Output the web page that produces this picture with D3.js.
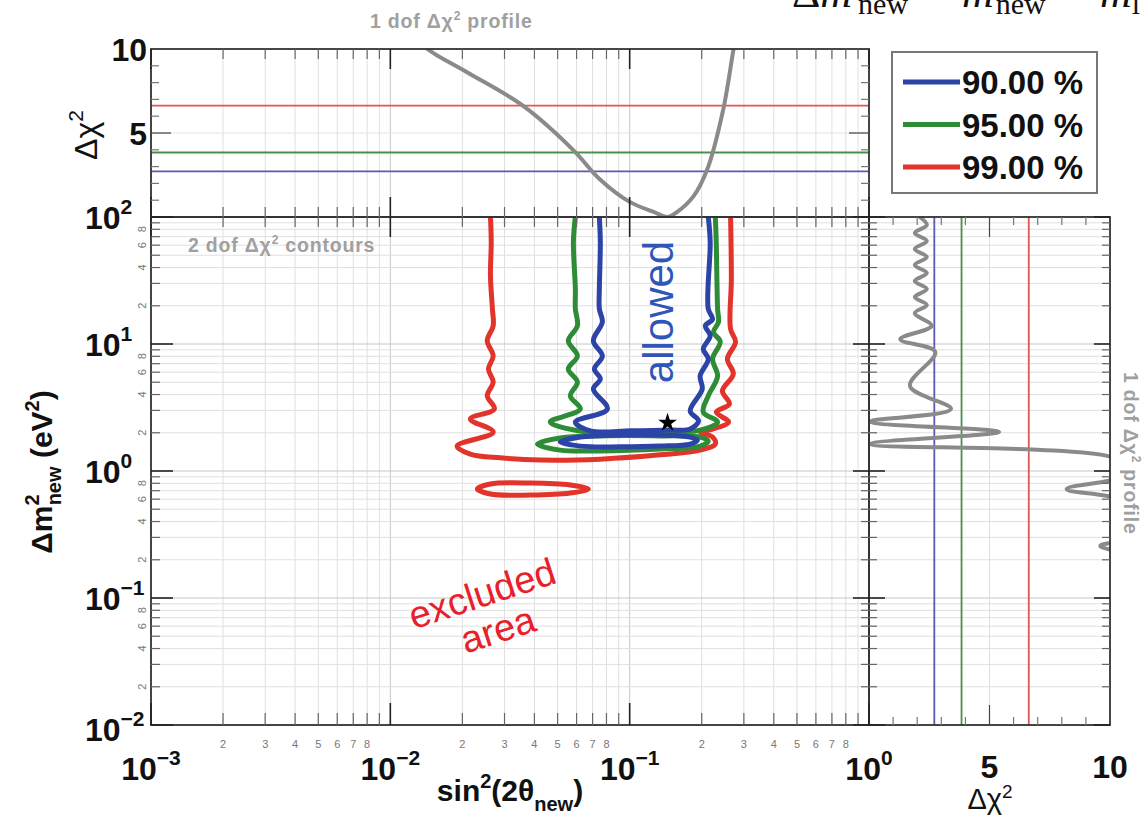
<!DOCTYPE html>
<html><head><meta charset="utf-8">
<script src="https://cdn.jsdelivr.net/npm/d3@7"></script>
<style>body{margin:0;background:#fff} svg{display:block;font-family:"Liberation Sans",Arial,sans-serif}</style>
</head><body>
<script>
// ---------------- data ----------------
const clLabels = ["90.00 %", "95.00 %", "99.00 %"];
const clDchi2 = [2.71, 3.84, 6.63];
const xMajor = [1e-3, 1e-2, 1e-1, 1];
const xExp = ["\u22123", "\u22122", "\u22121", "0"];
const yMajor = [1e-2, 1e-1, 1, 10, 100];
const yExp = ["\u22122", "\u22121", "0", "1", "2"];
const chiTickLabels = [5, 10];
// 1 dof profile vs sin^2(2theta): [sin2, dchi2]
const profileSin2 = [[0.0125,10.9],[0.0143,10.0],[0.021,8.6],[0.036,6.6],[0.058,4.0],[0.075,2.25],[0.100,0.9],[0.126,0.3],[0.144,0.0],[0.158,0.3],[0.185,1.24],[0.211,2.84],[0.246,6.4],[0.271,9.9],[0.28,11]];
// 1 dof profile vs dm2: [dchi2, dm2]
const profileDm2 = [[2.1,100],[2.4,86.5],[1.9,74.8],[2.4,64.7],[1.9,56.0],[2.4,48.4],[1.9,41.9],[2.4,36.2],[1.9,31.3],[2.4,27.1],[1.9,23.4],[2.4,20.3],[1.9,17.5],[2.6,13.9],[1.3,10.9],[2.75,8.65],[1.7,4.67],[3.4,3.08],[0.05,2.45],[5.4,2.03],[0.05,1.63],[10.5,1.2],[10.6,0.93],[8.2,0.72],[10.6,0.56],[10.6,0.30],[9.6,0.257],[10.6,0.22],[10.6,0.2]];
// 2 dof contours: [sin2, dm2]
const contour90 = [[0.0747,100],[0.0754,63.6],[0.0747,27.1],[0.0747,18.9],[0.0769,14.9],[0.0705,10.6],[0.0769,8.05],[0.0712,6.35],[0.0754,5.30],[0.0705,4.42],[0.0807,3.08],[0.0593,2.43],[0.0685,2.07],[0.101,2.07],[0.148,2.10],[0.179,2.14],[0.194,2.48],[0.179,2.97],[0.201,4.42],[0.197,5.60],[0.213,7.62],[0.203,9.13],[0.217,11.6],[0.207,13.9],[0.222,15.7],[0.213,18.9],[0.217,63.6],[0.213,100]];
const lens90 = [[0.0513,1.69],[0.0622,1.85],[0.0914,1.92],[0.134,1.92],[0.179,1.85],[0.192,1.75],[0.179,1.63],[0.134,1.57],[0.0914,1.55],[0.0622,1.57]];
const contour95 = [[0.0593,100],[0.0582,63.6],[0.0593,27.1],[0.0593,18.9],[0.0605,13.9],[0.0554,10.6],[0.0605,8.05],[0.0554,6.35],[0.0605,5.02],[0.0565,3.90],[0.0622,3.08],[0.0466,2.43],[0.0666,2.03],[0.111,2.03],[0.197,2.10],[0.233,2.43],[0.203,2.91],[0.213,3.90],[0.233,5.60],[0.222,7.62],[0.239,10.4],[0.224,12.4],[0.235,14.9],[0.233,18.9],[0.230,63.6],[0.228,100]];
const lens95 = [[0.0412,1.63],[0.0513,1.82],[0.0754,1.89],[0.134,1.89],[0.197,1.85],[0.213,1.72],[0.197,1.57],[0.134,1.49],[0.0754,1.44],[0.0513,1.46]];
const contour99 = [[0.0262,100],[0.0264,63.6],[0.0262,34.3],[0.0267,18.9],[0.0269,13.9],[0.0254,10.6],[0.0269,8.05],[0.0257,6.35],[0.0269,5.02],[0.0254,3.90],[0.0272,3.08],[0.0216,2.57],[0.0269,2.03],[0.0190,1.57],[0.0216,1.36],[0.0288,1.27],[0.0424,1.22],[0.0754,1.24],[0.134,1.34],[0.197,1.46],[0.228,1.63],[0.222,1.85],[0.197,2.03],[0.222,2.14],[0.259,2.43],[0.230,2.91],[0.261,3.37],[0.244,4.27],[0.271,5.81],[0.256,7.62],[0.277,10.4],[0.264,13.1],[0.266,32.5],[0.264,100]];
const island99 = [[0.0231,0.722],[0.0262,0.790],[0.0385,0.804],[0.0565,0.776],[0.0672,0.722],[0.0565,0.671],[0.0385,0.647],[0.0262,0.659]];
const bestFit = [0.144, 2.4];

// ---------------- layout / style ----------------
const W = 1146, H = 819;
const L = 151, R = 869, T = 217, B = 725, TT = 49, SR = 1110;
const colors = ["#2c44a8", "#2f8c36", "#e3342b"];
const lineColors = ["#5a5ab4", "#4a8f4a", "#e25555"];
const grey = "#8a8a8a";

const svg = d3.select("body").append("svg").attr("width", W).attr("height", H);
const x = d3.scaleLog().domain([1e-3, 1]).range([L, R]);
const y = d3.scaleLog().domain([1e-2, 1e2]).range([B, T]);
const yTop = d3.scaleLinear().domain([0, 10]).range([T, TT]);
const xSide = d3.scaleLinear().domain([0, 10]).range([R, SR]);
const isMajor = v => Math.abs(Math.log10(v) - Math.round(Math.log10(v))) < 1e-9;
const mant = v => Math.round(v / Math.pow(10, Math.floor(Math.log10(v) + 1e-9)));
const xT = x.ticks(), yT = y.ticks();
const chiT = d3.range(1, 10);

const defs = svg.append("defs");
defs.append("clipPath").attr("id", "cMain").append("rect").attr("x", L).attr("y", T).attr("width", R - L).attr("height", B - T);
defs.append("clipPath").attr("id", "cTop").append("rect").attr("x", L).attr("y", TT).attr("width", R - L).attr("height", T - TT);
defs.append("clipPath").attr("id", "cSide").append("rect").attr("x", R).attr("y", T).attr("width", SR - R).attr("height", B - T);

const gGrid = svg.append("g");
function ln(g, x1, y1, x2, y2, c, w) {
  return g.append("line").attr("x1", x1).attr("y1", y1).attr("x2", x2).attr("y2", y2).attr("stroke", c).attr("stroke-width", w);
}
// grids
xT.forEach(v => {
  const c = isMajor(v) ? "#c6c6c6" : "#e0e0e0";
  ln(gGrid, x(v), T, x(v), B, c, 1);
  ln(gGrid, x(v), TT, x(v), T, c, 1);
});
yT.forEach(v => {
  const c = isMajor(v) ? "#c6c6c6" : "#e0e0e0";
  ln(gGrid, L, y(v), R, y(v), c, 1);
  ln(gGrid, R, y(v), SR, y(v), c, 1);
});
ln(gGrid, L, yTop(5), R, yTop(5), "#e4e4e4", 1);
ln(gGrid, xSide(5), T, xSide(5), B, "#ecd8dc", 1);

// level lines
clDchi2.forEach((c, i) => {
  ln(svg, L, yTop(c), R, yTop(c), lineColors[i], 1.8);
  ln(svg, xSide(c), T, xSide(c), B, lineColors[i], 1.8);
});

// profiles
const lineTop = d3.line().x(d => x(d[0])).y(d => yTop(d[1])).curve(d3.curveCatmullRom.alpha(0.5));
svg.append("path").attr("clip-path", "url(#cTop)").attr("d", lineTop(profileSin2))
  .attr("fill", "none").attr("stroke", grey).attr("stroke-width", 4);
const lineSide = d3.line().x(d => xSide(d[0])).y(d => y(d[1])).curve(d3.curveCatmullRom.alpha(0.5));
svg.append("path").attr("clip-path", "url(#cSide)").attr("d", lineSide(profileDm2))
  .attr("fill", "none").attr("stroke", grey).attr("stroke-width", 4);

// contours
const gC = svg.append("g").attr("clip-path", "url(#cMain)");
const open = d3.line().x(d => x(d[0])).y(d => y(d[1])).curve(d3.curveCatmullRom.alpha(0.5));
const closed = d3.line().x(d => x(d[0])).y(d => y(d[1])).curve(d3.curveCatmullRomClosed.alpha(0.5));
[[contour99, island99, 2], [contour95, lens95, 1], [contour90, lens90, 0]].forEach(([u, l, i]) => {
  gC.append("path").attr("d", open(u)).attr("fill", "none").attr("stroke", colors[i]).attr("stroke-width", 5).attr("stroke-linejoin", "round");
  gC.append("path").attr("d", closed(l)).attr("fill", "none").attr("stroke", colors[i]).attr("stroke-width", 5);
});
svg.append("path").attr("d", d3.symbol().type(d3.symbolStar).size(110)())
  .attr("transform", `translate(${x(bestFit[0])},${y(bestFit[1])})`).attr("fill", "#000");

// borders
const bc = "#333";
[[L, TT, R - L, T - TT], [L, T, R - L, B - T], [R, T, SR - R, B - T]].forEach(r =>
  svg.append("rect").attr("x", r[0]).attr("y", r[1]).attr("width", r[2]).attr("height", r[3]).attr("fill", "none").attr("stroke", bc).attr("stroke-width", 1.8));

// ticks
const gT = svg.append("g");
const tc = v => isMajor(v) ? "#222" : "#666";
xT.forEach(v => {
  const m = isMajor(v);
  ln(gT, x(v), B, x(v), B - (m ? 22 : 12), tc(v), m ? 1.6 : 1.2);
  ln(gT, x(v), T, x(v), T + (m ? 20 : 10), tc(v), m ? 1.6 : 1.2);
  ln(gT, x(v), T, x(v), T - (m ? 20 : 10), tc(v), m ? 1.6 : 1.2);
  ln(gT, x(v), TT, x(v), TT + (m ? 20 : 10), tc(v), m ? 1.6 : 1.2);
});
yT.forEach(v => {
  const m = isMajor(v);
  ln(gT, L, y(v), L + (m ? 22 : 9), y(v), tc(v), m ? 1.6 : 1.2);
  ln(gT, R, y(v), R - (m ? 16 : 8), y(v), tc(v), m ? 1.6 : 1.2);
  ln(gT, R, y(v), R + (m ? 16 : 8), y(v), tc(v), m ? 1.6 : 1.2);
  ln(gT, SR, y(v), SR - (m ? 16 : 8), y(v), tc(v), m ? 1.6 : 1.2);
});
chiT.forEach(c => {
  const l = c === 5 ? 20 : 8, col = c === 5 ? "#444" : "#777";
  ln(gT, L, yTop(c), L + l, yTop(c), col, 1.2);
  ln(gT, R, yTop(c), R - l, yTop(c), col, 1.2);
  ln(gT, xSide(c), T, xSide(c), T + l, col, 1.2);
  ln(gT, xSide(c), B, xSide(c), B - l, col, 1.2);
});

// minor tick labels
xT.filter(v => !isMajor(v) && mant(v) <= 8).forEach(v =>
  svg.append("text").attr("x", x(v)).attr("y", B + 23).attr("text-anchor", "middle")
    .attr("font-size", 11).attr("fill", "#777").text(mant(v)));
yT.filter(v => !isMajor(v) && mant(v) % 2 === 0).forEach(v =>
  svg.append("text").attr("transform", `translate(${L - 5},${y(v)}) rotate(-90)`).attr("text-anchor", "middle")
    .attr("font-size", 11).attr("fill", "#777").text(mant(v)));

// major labels
function pow10(g, tx, ty, anchor, exp) {
  const t = g.append("text").attr("x", tx).attr("y", ty).attr("text-anchor", anchor)
    .attr("font-size", 32).attr("font-weight", "bold").attr("fill", "#111");
  t.append("tspan").text("10");
  t.append("tspan").attr("font-size", 21).attr("dy", -15).text(exp);
}
xMajor.forEach((v, i) => pow10(svg, x(v), 780, "middle", xExp[i]));
yMajor.forEach((v, i) => pow10(svg, 85, y(v) + (i === 0 ? 16 : 12), "start", yExp[i]));
[[10, "10"], [5, "5"]].forEach(([v, s]) =>
  svg.append("text").attr("x", 147).attr("y", yTop(v) + 12).attr("text-anchor", "end")
    .attr("font-size", 32).attr("font-weight", "bold").attr("fill", "#111").text(s));
chiTickLabels.forEach(v =>
  svg.append("text").attr("x", xSide(v)).attr("y", 778).attr("text-anchor", "middle")
    .attr("font-size", 32).attr("font-weight", "bold").attr("fill", "#111").text(v));

// axis titles
{
  const t = svg.append("text").attr("transform", "translate(97,135) rotate(-90)").attr("text-anchor", "middle")
    .attr("font-size", 32).attr("fill", "#111");
  t.append("tspan").text("\u0394\u03c7");
  t.append("tspan").attr("font-size", 21).attr("dy", -14).text("2");
}
{
  const t = svg.append("text").attr("transform", "translate(990,809)").attr("text-anchor", "middle")
    .attr("font-size", 29).attr("fill", "#111");
  t.append("tspan").text("\u0394\u03c7");
  t.append("tspan").attr("font-size", 19).attr("dy", -11).text("2");
}
{
  const t = svg.append("text").attr("transform", "translate(52,472) rotate(-90)").attr("text-anchor", "middle")
    .attr("font-size", 30).attr("font-weight", "bold").attr("fill", "#111");
  t.append("tspan").text("\u0394m");
  t.append("tspan").attr("font-size", 20).attr("dy", -13).text("2");
  t.append("tspan").attr("font-size", 20).attr("dx", -11).attr("dy", 22).text("new");
  t.append("tspan").attr("dy", -9).text(" (eV");
  t.append("tspan").attr("font-size", 20).attr("dy", -13).text("2");
  t.append("tspan").attr("dy", 13).text(")");
}
{
  const t = svg.append("text").attr("transform", "translate(510,801)").attr("text-anchor", "middle")
    .attr("font-size", 30).attr("font-weight", "bold").attr("fill", "#111");
  t.append("tspan").text("sin");
  t.append("tspan").attr("font-size", 20).attr("dy", -13).text("2");
  t.append("tspan").attr("dy", 13).text("(2\u03b8");
  t.append("tspan").attr("font-size", 20).attr("dy", 10).text("new");
  t.append("tspan").attr("dy", -10).text(")");
}

// grey panel titles
function greyTitle(tr, words) {
  const t = svg.append("text").attr("transform", tr).attr("font-size", 19.5).attr("font-weight", "bold")
    .attr("letter-spacing", 0.8).attr("fill", "#a0a0a0");
  t.append("tspan").text("1 dof \u0394\u03c7".replace("1", words[0]));
  t.append("tspan").attr("font-size", 12).attr("dy", -8).text("2");
  t.append("tspan").attr("dy", 8).text(" " + words[1]);
}
greyTitle("translate(370,28)", ["1", "profile"]);
greyTitle("translate(188,252)", ["2", "contours"]);
greyTitle("translate(1124,372) rotate(90)", ["1", "profile"]);

// annotations
svg.append("text").attr("transform", "translate(673,312) rotate(-90)").attr("text-anchor", "middle")
  .attr("font-size", 42).attr("fill", "#2f55b8").text("allowed");
svg.append("text").attr("transform", "translate(486,606) rotate(-18)").attr("text-anchor", "middle")
  .attr("font-size", 38).attr("fill", "#e8202a").text("excluded");
svg.append("text").attr("transform", "translate(502,642) rotate(-18)").attr("text-anchor", "middle")
  .attr("font-size", 38).attr("fill", "#e8202a").text("area");

// legend
svg.append("rect").attr("x", 892).attr("y", 52).attr("width", 205).attr("height", 141)
  .attr("fill", "#fff").attr("stroke", "#777").attr("stroke-width", 2);
clLabels.forEach((s, i) => {
  const cy = 82 + i * 42.5;
  ln(svg, 903, cy, 960, cy, colors[i], 5);
  svg.append("text").attr("x", 962).attr("y", cy + 12).attr("font-size", 33).attr("font-weight", "bold")
    .attr("fill", "#111").text(s);
});

// clipped formula fragment at top right (cut by the page edge, as in the source)
const ff = svg.append("g").attr("font-family", "'Liberation Serif','DejaVu Serif',serif").attr("fill", "#111");
{
  const t = ff.append("text").attr("x", 792).attr("y", 7).attr("font-size", 44);
  t.append("tspan").text("\u0394");
  t.append("tspan").attr("font-style", "italic").text("m");
  t.append("tspan").attr("font-size", 30).attr("dy", 7).attr("dx", 6).text("new");
}
{
  const t = ff.append("text").attr("x", 962).attr("y", 7).attr("font-size", 44);
  t.append("tspan").attr("font-style", "italic").text("m");
  t.append("tspan").attr("font-size", 30).attr("dy", 7).attr("dx", 2).text("new");
}
{
  const t = ff.append("text").attr("x", 1100).attr("y", 7).attr("font-size", 44);
  t.append("tspan").attr("font-style", "italic").text("m");
  t.append("tspan").attr("font-size", 30).attr("dy", 7).text("l");
}
</script>
</body></html>
